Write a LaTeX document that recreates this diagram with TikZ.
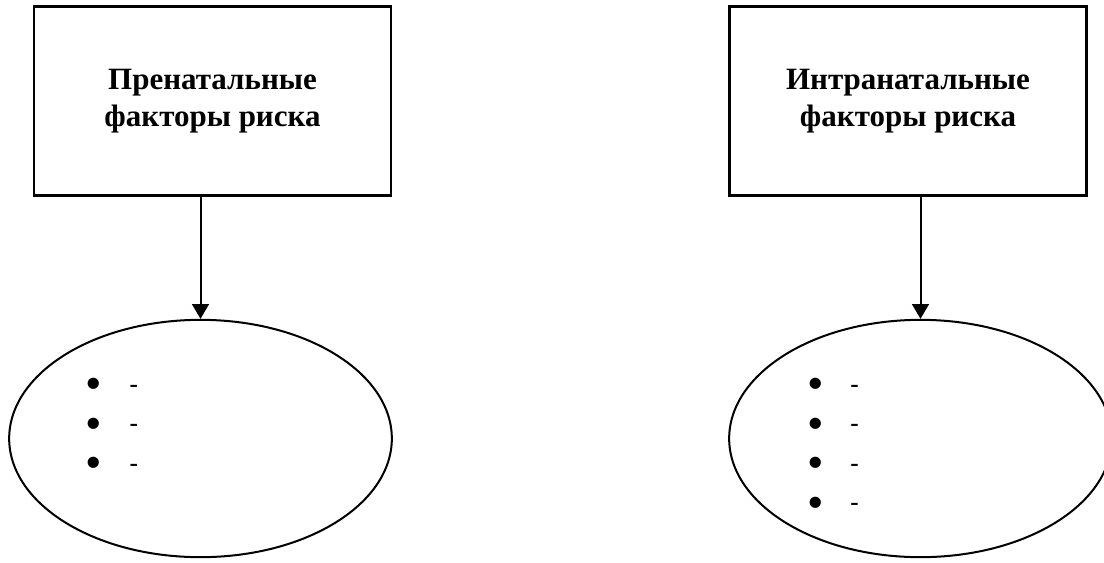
\documentclass[tikz,border=0pt]{standalone}
\usepackage{fontspec}
\setmainfont{Liberation Serif}
\newfontfamily\listfont{Liberation Sans}
\usetikzlibrary{shapes.geometric,arrows.meta}

\newcommand{\bul}{{\fontsize{31}{31}\selectfont\raisebox{-0.11em}{\textbullet}}}

\begin{document}
\begin{tikzpicture}
        [
        x=0.75pt, y=-0.75pt,
        factor/.style={rectangle, draw, line width=1.85pt, minimum width=267.75pt, minimum height=142pt, align=center, font=\fontsize{23.25}{27.75}\selectfont\bfseries},
        group/.style={ellipse, draw, line width=1.5pt, minimum width=287pt, minimum height=178pt, inner sep=0pt},
        items/.style={anchor=base west, align=left, inner sep=0pt, font=\fontsize{20}{29.6}\selectfont\listfont},
        link/.style={-{Triangle[width=12.5pt,length=11pt]}, line width=1.5pt}
        ]

        \useasboundingbox (0,0) rectangle (1104,562);

        \node[factor] (pre) at (212.5,101) {Пренатальные\\факторы риска};
        \node[factor] (intra) at (908,101) {Интранатальные\\факторы риска};

        \node[group] (preList) at (200.5,438.5) {};
        \node[group] (intraList) at (920.5,438.5) {};

        % base anchor sits on the last line
        \node[items] (preItems) at (86,472) {\bul\hspace{21.5pt}-\\\bul\hspace{21.5pt}-\\\bul\hspace{21.5pt}-};
        \node[items] (intraItems) at (808,511.5) {\bul\hspace{20.5pt}-\\\bul\hspace{20.5pt}-\\\bul\hspace{20.5pt}-\\\bul\hspace{20.5pt}-};

        \draw[link] (preList.north |- pre.south) -- (preList.north);
        \draw[link] (intraList.north |- intra.south) -- (intraList.north);

    \end{tikzpicture}
\end{document}
